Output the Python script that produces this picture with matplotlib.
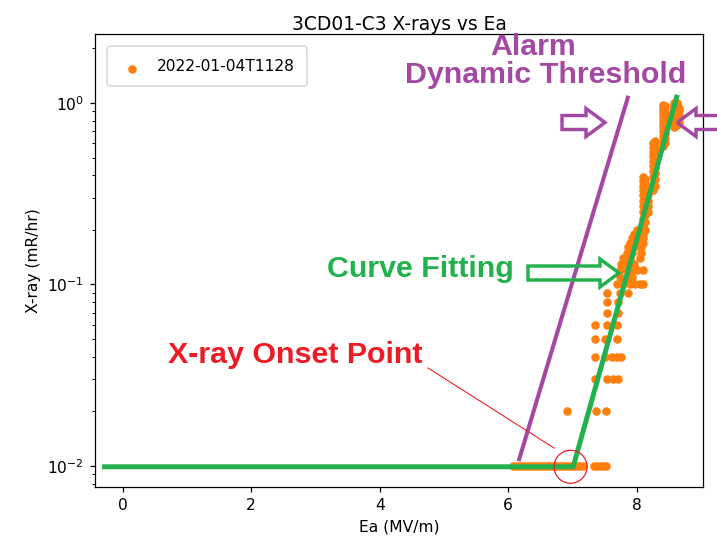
import matplotlib.pyplot as plt
import matplotlib.patches as mpatches
from matplotlib.transforms import IdentityTransform

# measured points, grouped by X-ray level (mR/hr) -> Ea values (MV/m)
row_levels = [0.01, 0.02, 0.03, 0.04, 0.05, 0.06, 0.07, 0.08, 0.09, 0.10,
              0.11, 0.12, 0.13, 0.14, 0.15, 0.16, 0.17, 0.18, 0.19, 0.20]
row_ea = [
    [6.08, 6.12, 6.16, 6.20, 6.24, 6.28, 6.32, 6.36, 6.40, 6.44, 6.48, 6.52,
     6.56, 6.60, 6.64, 6.68, 6.72, 6.76, 6.80, 6.84, 6.88, 6.92, 6.96, 7.00,
     7.04, 7.08, 7.12, 7.16, 7.33, 7.38, 7.43, 7.48, 7.52],
    [6.92, 7.36, 7.52],
    [7.35, 7.53, 7.63, 7.71],
    [7.35, 7.50, 7.61, 7.69, 7.76],
    [7.35, 7.50, 7.69],
    [7.35, 7.53, 7.69],
    [7.53, 7.71],
    [7.53, 7.71],
    [7.53, 7.74, 7.87],
    [7.69, 7.79, 7.89, 7.97, 8.05, 8.10],
    [7.74, 7.84, 7.92],
    [7.74, 7.84, 7.92, 8.00, 8.10],
    [7.76, 7.87, 7.95],
    [7.79, 7.89, 8.05],
    [7.84, 7.92, 8.07],
    [7.86, 7.95, 8.07],
    [7.89, 8.00, 8.10],
    [7.92, 8.02, 8.10],
    [7.95, 8.05, 8.10],
    [8.00, 8.07, 8.12],
]

# near-vertical streaks at the top of the conditioning run
streak_ea = [8.09, 8.12, 8.17, 8.25, 8.28, 8.41, 8.44, 8.58, 8.63, 8.66]
streak_xray = [
    [0.21, 0.23, 0.25, 0.27, 0.29, 0.31, 0.33, 0.35, 0.37, 0.39],
    [0.22, 0.24, 0.26, 0.28, 0.30, 0.32, 0.34, 0.36, 0.38],
    [0.25, 0.27, 0.29, 0.31, 0.33],
    [0.33, 0.36, 0.39, 0.42, 0.45, 0.48, 0.51, 0.54, 0.57, 0.60],
    [0.35, 0.38, 0.41, 0.44, 0.47, 0.50, 0.53, 0.56, 0.59, 0.62],
    [0.58, 0.62, 0.66, 0.70, 0.74, 0.78, 0.82, 0.86, 0.90, 0.94, 0.97],
    [0.60, 0.64, 0.68, 0.72, 0.76, 0.80, 0.84, 0.88, 0.92, 0.96],
    [0.74, 0.78, 0.82, 0.86, 0.90, 0.94, 0.98, 1.00],
    [0.76, 0.80, 0.84, 0.88, 0.92, 0.96, 1.00],
    [0.78, 0.82, 0.86, 0.90, 0.94],
]

# hand-drawn lines (Ea, X-ray)
fit_ea = [-0.32, 7.01, 8.63]
fit_xray = [0.0099, 0.0099, 1.11]
alarm_ea = [6.17, 7.86]
alarm_xray = [0.0109, 1.07]
onset = (7.0, 0.0099)

ea = []
xray = []
for lvl, xs in zip(row_levels, row_ea):
    ea += xs
    xray += [lvl] * len(xs)
for x, ys in zip(streak_ea, streak_xray):
    ea += [x] * len(ys)
    xray += ys

PURPLE = '#a349a4'
GREEN = '#22b14c'
RED = '#ed1c24'
H = 538

fig = plt.figure(figsize=(717 / 112, 538 / 112), dpi=112)
ax = fig.add_axes([0.1325, 0.0948, 0.848, 0.842])
ax.scatter(ea, xray, s=20, color='#ff7f0e', label='2022-01-04T1128', zorder=2)
ax.set_yscale('log')
ax.set_xlim(-0.43, 9.03)
ax.set_ylim(0.00766, 2.4)
ax.set_xticks([0, 2, 4, 6, 8])
ax.set_title('3CD01-C3 X-rays vs Ea', pad=2)
ax.set_xlabel('Ea (MV/m)')
ax.set_ylabel('X-ray (mR/hr)')
ax.legend(loc='upper left', borderpad=0.78, handlelength=1.6,
          borderaxespad=0.8, scatteryoffsets=[0.1])

ax.plot(fit_ea, fit_xray, color=GREEN, lw=3.2, zorder=3, clip_on=False,
        solid_capstyle='butt')
ax.plot(alarm_ea, alarm_xray, color=PURPLE, lw=2.6, zorder=3)

# overlay annotations (pixel positions, origin top-left)
ident = IdentityTransform()


def txt(x, y, s, c):
    fig.text(x, H - y, s, color=c, fontsize=19.5, fontweight='bold',
             family='Liberation Sans', ha='left', va='baseline', transform=ident)


txt(490, 55, 'Alarm', PURPLE)
txt(405, 83, 'Dynamic Threshold', PURPLE)
txt(327, 277, 'Curve Fitting', GREEN)
txt(168, 363, 'X-ray Onset Point', RED)


def hollow_arrow(x0, x1, y, c):
    dx = x1 - x0
    fig.patches.append(mpatches.FancyArrow(
        x0, H - y, dx, 0, width=14, head_width=28, head_length=19,
        length_includes_head=True, fill=False, edgecolor=c, lw=2.2,
        transform=ident, figure=fig))


hollow_arrow(562, 605, 122.5, PURPLE)
hollow_arrow(730, 677, 122.5, PURPLE)
hollow_arrow(528, 619, 273, GREEN)

cx, cy = ax.transData.transform(onset)
fig.patches.append(mpatches.Circle((cx - 2, cy), 16.5, fill=False,
                                   edgecolor=RED, lw=0.8, transform=ident,
                                   figure=fig))
fig.lines.append(plt.Line2D([428, 554], [H - 368, H - 448], color=RED, lw=0.7,
                            transform=ident, figure=fig))

fig.savefig('out.png', dpi=112)
